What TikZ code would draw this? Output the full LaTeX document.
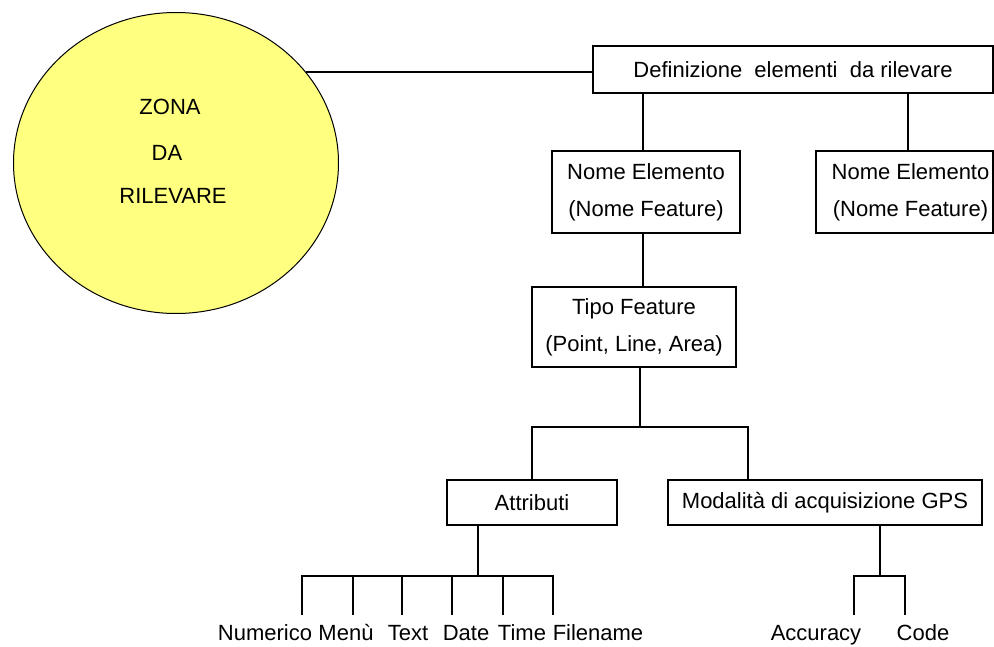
\documentclass[tikz,border=0pt]{standalone}
\usepackage{fontspec}
\setmainfont{Liberation Sans}
\usetikzlibrary{shapes.geometric}
\definecolor{zonayellow}{RGB}{255,255,128}
\begin{document}
\begin{tikzpicture}[x=1pt,y=-1pt,line width=1.3pt,
  box/.style={draw,line width=1.3pt,inner sep=0pt,align=center,
    font=\fontsize{22}{37}\selectfont},
  zonatext/.style={inner sep=0pt,font=\fontsize{22}{22}\selectfont},
  lbl/.style={inner sep=0pt,anchor=base,font=\fontsize{22}{22}\selectfont}]
\useasboundingbox (0,0) rectangle (994,647);

% zone ellipse
\node (zona) [ellipse,draw,line width=1pt,fill=zonayellow,inner sep=0pt,
  minimum width=325pt,minimum height=301pt] at (176,163) {};
\node (z1) [zonatext] at (170,106.5) {ZONA};
\node (z2) [zonatext] at (167,153) {DA};
\node (z3) [zonatext] at (173,196) {RILEVARE};

% boxes
\node (def) [box,minimum width=400pt,minimum height=47pt] at (793,69.5)
  {Definizione\ \ elementi\ \ da rilevare};
\node (nome1) [box,minimum width=188pt,minimum height=82pt] at (646,192)
  {Nome Elemento\\(Nome Feature)};
\node (nome2) [box,minimum width=177pt,minimum height=82pt] at (904.5,192)
  {\hspace*{12pt}Nome Elemento\\\hspace*{12pt}(Nome Feature)};
\node (tipo) [box,minimum width=204pt,minimum height=80pt] at (634,327)
  {Tipo Feature\\(Point, Line, Area)};
\node (attr) [box,minimum width=170pt,minimum height=45pt] at (532,502.5)
  {Attributi};
\node (mod) [box,minimum width=314pt,minimum height=45pt] at (825,502.5)
  {Modalità di acquisizione GPS};

% labels
\node (l1) [lbl] at (265,640) {Numerico};
\node (l2) [lbl] at (346,640) {Menù};
\node (l3) [lbl] at (408,640) {Text};
\node (l4) [lbl] at (466,640) {Date};
\node (l5) [lbl] at (522,640) {Time};
\node (l6) [lbl] at (598,640) {Filename};
\node (l7) [lbl] at (816,640) {Accuracy};
\node (l8) [lbl] at (923,640) {Code};

% stems and junctions
\coordinate (s1) at (643,0);
\coordinate (s2) at (908,0);
\coordinate (s3) at (748,0);
\coordinate (j1) at (640,427);
\coordinate (j2) at (478,576);
\coordinate (j3) at (880,576);
\coordinate (t1) at (302,615);
\coordinate (t2) at (353,615);
\coordinate (t3) at (402,615);
\coordinate (t4) at (452,615);
\coordinate (t5) at (503,615);
\coordinate (t6) at (553,615);
\coordinate (a1) at (854,615);
\coordinate (a2) at (905,615);

% connectors
\draw (zona.35.2) -- (zona.35.2 -| def.west);
\draw (def.south -| s1) -- (nome1.north -| s1);
\draw (def.south -| s2) -- (nome2.north -| s2);
\draw (nome1.south -| s1) -- (tipo.north -| s1);
\draw (tipo.south -| j1) -- (j1);
\draw (attr.north) |- (j1) -| (mod.north -| s3);
\draw (attr.south -| j2) -- (j2);
\draw (t1) |- (j2) -| (t6);
\draw (t2) -- (t2 |- j2);
\draw (t3) -- (t3 |- j2);
\draw (t4) -- (t4 |- j2);
\draw (t5) -- (t5 |- j2);
\draw (mod.south -| j3) -- (j3);
\draw (a1) |- (j3) -| (a2);
\end{tikzpicture}
\end{document}
